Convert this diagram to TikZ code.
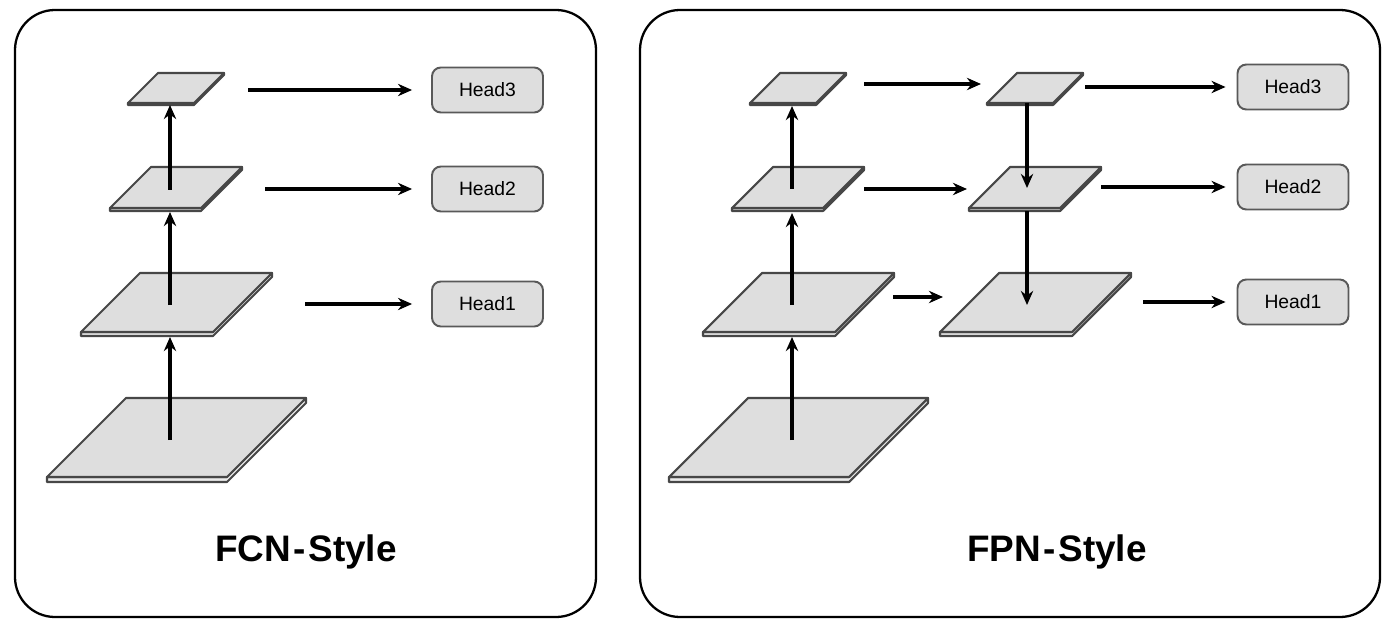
\documentclass[tikz,border=0pt]{standalone}
\usepackage{fontspec}
\setmainfont{Liberation Sans}
\usetikzlibrary{arrows.meta}

\begin{document}
\begin{tikzpicture}[x=0.02cm,y=-0.02cm,
        layer/.style={draw=black!72,line width=1.2pt,fill=black!13,line join=round},
        slab/.style={draw=black!72,line width=1.2pt,fill=black!8,line join=round},
        head/.style={draw=black!65,line width=1.1pt,fill=black!13,rounded corners=5pt,
            minimum width=2.22cm,minimum height=0.9cm,font=\fontsize{11}{12}\selectfont},
        arr/.style={-{Stealth[length=8pt,width=7pt]},line width=2pt},
        panel/.style={draw,line width=1.3pt,rounded corners=0.8cm},
        title/.style={anchor=base,font=\fontsize{21}{24}\selectfont\bfseries}]
                \useasboundingbox (0,0) rectangle (1395,628);
                \draw [panel] (15,10) rectangle (596,617);
                \draw [panel] (640,10) rectangle (1380,617);
                \draw [slab] (47,477) -- (47,482) -- (227,482) -- (306,403) -- (306,398) -- (227,477) -- cycle;
                \draw [layer] (47,477) -- (227,477) -- (306,398) -- (126,398) -- cycle;
                \draw [slab] (81,332) -- (81,336) -- (213,336) -- (272,277) -- (272,273) -- (213,332) -- cycle;
                \draw [layer] (81,332) -- (213,332) -- (272,273) -- (140,273) -- cycle;
                \draw [slab] (110,208) -- (110,211) -- (201,211) -- (242,170) -- (242,167) -- (201,208) -- cycle;
                \draw [layer] (110,208) -- (201,208) -- (242,167) -- (151,167) -- cycle;
                \draw [slab] (128,103) -- (128,105) -- (194,105) -- (224,75) -- (224,73) -- (194,103) -- cycle;
                \draw [layer] (128,103) -- (194,103) -- (224,73) -- (158,73) -- cycle;
                \draw [slab] (669,477) -- (669,482) -- (849,482) -- (928,403) -- (928,398) -- (849,477) -- cycle;
                \draw [layer] (669,477) -- (849,477) -- (928,398) -- (748,398) -- cycle;
                \draw [slab] (703,332) -- (703,336) -- (835,336) -- (894,277) -- (894,273) -- (835,332) -- cycle;
                \draw [layer] (703,332) -- (835,332) -- (894,273) -- (762,273) -- cycle;
                \draw [slab] (732,208) -- (732,211) -- (823,211) -- (864,170) -- (864,167) -- (823,208) -- cycle;
                \draw [layer] (732,208) -- (823,208) -- (864,167) -- (773,167) -- cycle;
                \draw [slab] (750,103) -- (750,105) -- (816,105) -- (846,75) -- (846,73) -- (816,103) -- cycle;
                \draw [layer] (750,103) -- (816,103) -- (846,73) -- (780,73) -- cycle;
                \draw [slab] (940,332) -- (940,336) -- (1072,336) -- (1131,277) -- (1131,273) -- (1072,332) -- cycle;
                \draw [layer] (940,332) -- (1072,332) -- (1131,273) -- (999,273) -- cycle;
                \draw [slab] (969,208) -- (969,211) -- (1060,211) -- (1101,170) -- (1101,167) -- (1060,208) -- cycle;
                \draw [layer] (969,208) -- (1060,208) -- (1101,167) -- (1010,167) -- cycle;
                \draw [slab] (987,103) -- (987,105) -- (1053,105) -- (1083,75) -- (1083,73) -- (1053,103) -- cycle;
                \draw [layer] (987,103) -- (1053,103) -- (1083,73) -- (1017,73) -- cycle;
                \coordinate (c4up) at (170,440);
                \coordinate (c3dn) at (170,337);
                \coordinate (c3up) at (170,305);
                \coordinate (c2dn) at (170,212);
                \coordinate (c2up) at (170,190);
                \coordinate (c1dn) at (170,105);
                \coordinate (c1r) at (248,90);
                \coordinate (c2r) at (265,189);
                \coordinate (c3r) at (305,304);
                \coordinate (p4up) at (792,440);
                \coordinate (p3dn) at (792,337);
                \coordinate (p3up) at (792,305);
                \coordinate (p2dn) at (792,213);
                \coordinate (p2up) at (792,189);
                \coordinate (p1dn) at (792,106);
                \coordinate (p1r) at (864,84);
                \coordinate (p2r) at (864,189);
                \coordinate (p3r) at (893,297);
                \coordinate (q1l) at (981,84);
                \coordinate (q2l) at (967,189);
                \coordinate (q3l) at (943,297);
                \coordinate (q1dn) at (1027,103);
                \coordinate (q2in) at (1027,188);
                \coordinate (q2dn) at (1027,211);
                \coordinate (q3in) at (1027,305);
                \coordinate (q1r) at (1085,87);
                \coordinate (q2r) at (1101,187);
                \coordinate (q3r) at (1143,302);
                \node [head] (ch3) at (487.5,90) {Head3};
                \node [head] (ch2) at (487.5,189) {Head2};
                \node [head] (ch1) at (487.5,304) {Head1};
                \node [head] (ph3) at (1293,87) {Head3};
                \node [head] (ph2) at (1293,187) {Head2};
                \node [head] (ph1) at (1293,302) {Head1};
                \node [title] (fcn) at (306,561) {FCN\kern1.5pt-\kern1.5pt Style};
                \node [title] (fpn) at (1057,561) {FPN\kern1.5pt-\kern1.5pt Style};
                \draw [arr] (c4up) -- (c3dn);
                \draw [arr] (c3up) -- (c2dn);
                \draw [arr] (c2up) -- (c1dn);
                \draw [arr,shorten >=0.38cm] (c1r) -- (ch3);
                \draw [arr,shorten >=0.38cm] (c2r) -- (ch2);
                \draw [arr,shorten >=0.38cm] (c3r) -- (ch1);
                \draw [arr] (p4up) -- (p3dn);
                \draw [arr] (p3up) -- (p2dn);
                \draw [arr] (p2up) -- (p1dn);
                \draw [arr] (p1r) -- (q1l);
                \draw [arr] (p2r) -- (q2l);
                \draw [arr] (p3r) -- (q3l);
                \draw [arr] (q1dn) -- (q2in);
                \draw [arr] (q2dn) -- (q3in);
                \draw [arr,shorten >=0.22cm] (q1r) -- (ph3);
                \draw [arr,shorten >=0.22cm] (q2r) -- (ph2);
                \draw [arr,shorten >=0.22cm] (q3r) -- (ph1);
\end{tikzpicture}
\end{document}
